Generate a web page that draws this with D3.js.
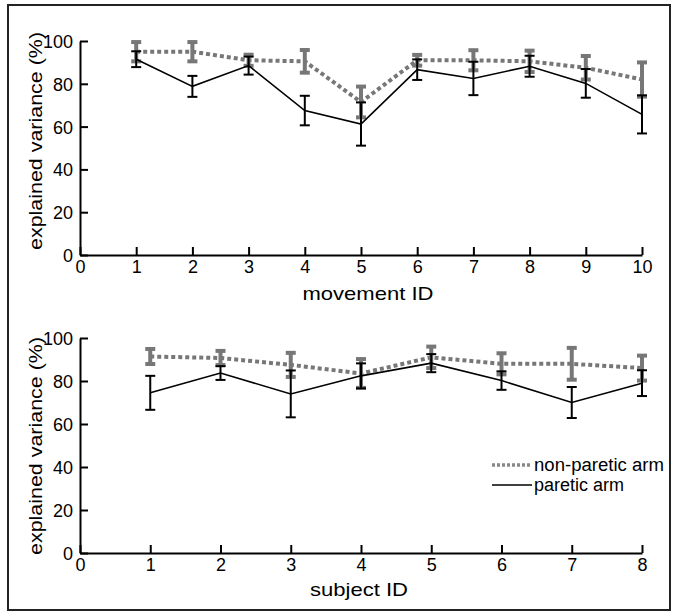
<!DOCTYPE html>
<html>
<head>
<meta charset="utf-8">
<script src="https://cdn.jsdelivr.net/npm/d3@7"></script>
<style>
  body { margin: 0; background: #fff; }
  svg text { font-family: "Liberation Sans", Arial, sans-serif; fill: #000; }
  .axis path, .axis line { stroke: #000; stroke-width: 2; }
  .axis text { font-size: 18px; }
</style>
</head>
<body>
<div id="chart"></div>
<script>
// movement panel (top)
const movementIds = [1, 2, 3, 4, 5, 6, 7, 8, 9, 10];
const movParetic = [91.5, 78.8, 88.5, 67.5, 61.2, 86.6, 82.5, 88.2, 80.2, 65.7];
const movPareticErr = [3.7, 4.9, 4.2, 6.9, 10.1, 4.8, 7.8, 4.9, 6.7, 8.9];
const movNonParetic = [95, 95, 91, 90.5, 71.5, 91, 91, 90.5, 87.5, 82];
const movNonPareticErr = [4.5, 4.5, 2.6, 5.3, 7.2, 2.5, 4.7, 5, 5.5, 8];

// subject panel (bottom)
const subjectIds = [1, 2, 3, 4, 5, 6, 7, 8];
const subParetic = [74.5, 83.7, 74, 82.4, 88.3, 80.2, 70, 79];
const subPareticErr = [7.9, 3.2, 10.9, 5.8, 4.2, 4.3, 7.2, 6];
const subNonParetic = [91.4, 90.7, 87.5, 83.5, 91, 88, 88, 86];
const subNonPareticErr = [3.5, 3.3, 5.6, 6.7, 5, 4.9, 7.4, 5.8];

const yTicks = [0, 20, 40, 60, 80, 100];
const legendLabels = ["non-paretic arm", "paretic arm"];

const W = 675, H = 613;
const svg = d3.select("#chart").append("svg")
  .attr("width", W).attr("height", H);

// outer frame
svg.append("rect")
  .attr("x", 8).attr("y", 5).attr("width", 662).attr("height", 605)
  .attr("fill", "none").attr("stroke", "#222").attr("stroke-width", 2);

const grey = "#777";

function drawPanel(cfg) {
  const x = d3.scaleLinear().domain([0, cfg.xMax]).range([80, 642]);
  const y = d3.scaleLinear().domain([0, 100]).range([cfg.y0, cfg.y1]);
  const g = svg.append("g");

  g.append("g").attr("class", "axis")
    .attr("transform", `translate(80,0)`)
    .call(d3.axisLeft(y).tickValues(yTicks).tickSizeInner(-8).tickSizeOuter(0).tickPadding(7))
    .call(a => a.selectAll("text").attr("dy", "0.36em"));

  g.append("g").attr("class", "axis")
    .attr("transform", `translate(0,${cfg.y0})`)
    .call(d3.axisBottom(x).ticks(cfg.xMax).tickFormat(d3.format("d"))
      .tickSizeInner(-8).tickSizeOuter(0).tickPadding(5));

  const line = d3.line().x((d, i) => x(cfg.ids[i])).y(d => y(d));

  // non-paretic (grey dotted) first, paretic on top
  g.append("path").datum(cfg.non)
    .attr("d", line).attr("fill", "none")
    .attr("stroke", grey).attr("stroke-width", 4)
    .attr("stroke-dasharray", "4,3");
  errorBars(g, x, y, cfg.ids, cfg.non, cfg.nonErr, grey, 4, 10);

  g.append("path").datum(cfg.par)
    .attr("d", line).attr("fill", "none")
    .attr("stroke", "#000").attr("stroke-width", 1.6);
  errorBars(g, x, y, cfg.ids, cfg.par, cfg.parErr, "#000", 2, 10);

  // axis titles
  g.append("text")
    .attr("transform", `translate(42,${cfg.yTitleY}) rotate(-90)`)
    .attr("text-anchor", "middle")
    .attr("font-size", 19)
    .attr("textLength", 218).attr("lengthAdjust", "spacingAndGlyphs")
    .text("explained variance (%)");

  g.append("text")
    .attr("x", cfg.xTitleX).attr("y", cfg.xTitleBase)
    .attr("text-anchor", "middle")
    .attr("font-size", 19)
    .attr("textLength", cfg.xTitleLen).attr("lengthAdjust", "spacingAndGlyphs")
    .text(cfg.xTitle);
}

function errorBars(g, x, y, ids, vals, errs, color, sw, cap) {
  const eb = g.append("g").attr("stroke", color).attr("stroke-width", sw);
  vals.forEach((v, i) => {
    const cx = x(ids[i]);
    eb.append("line").attr("x1", cx).attr("x2", cx)
      .attr("y1", y(v - errs[i])).attr("y2", y(v + errs[i]));
    [v - errs[i], v + errs[i]].forEach(e => {
      eb.append("line").attr("x1", cx - cap / 2).attr("x2", cx + cap / 2)
        .attr("y1", y(e)).attr("y2", y(e));
    });
  });
}

drawPanel({
  xMax: 10, ids: movementIds, y0: 255, y1: 41,
  par: movParetic, parErr: movPareticErr,
  non: movNonParetic, nonErr: movNonPareticErr,
  yTitleY: 141, xTitle: "movement ID", xTitleX: 368, xTitleBase: 300, xTitleLen: 131
});

drawPanel({
  xMax: 8, ids: subjectIds, y0: 553, y1: 338,
  par: subParetic, parErr: subPareticErr,
  non: subNonParetic, nonErr: subNonPareticErr,
  yTitleY: 446, xTitle: "subject ID", xTitleX: 359, xTitleBase: 596, xTitleLen: 98
});

// legend
const legend = svg.append("g");
legendLabels.forEach((lab, i) => {
  const ly = 465 + i * 20;
  legend.append("line")
    .attr("x1", 492).attr("x2", 532).attr("y1", ly).attr("y2", ly)
    .attr("stroke", i === 0 ? "#888" : "#000")
    .attr("stroke-width", i === 0 ? 3.5 : 1.6)
    .attr("stroke-dasharray", i === 0 ? "3,2" : null);
  legend.append("text")
    .attr("x", 534).attr("y", ly + 6)
    .attr("font-size", 18)
    .attr("textLength", i === 0 ? 130 : 90).attr("lengthAdjust", "spacingAndGlyphs")
    .text(lab);
});
</script>
</body>
</html>
